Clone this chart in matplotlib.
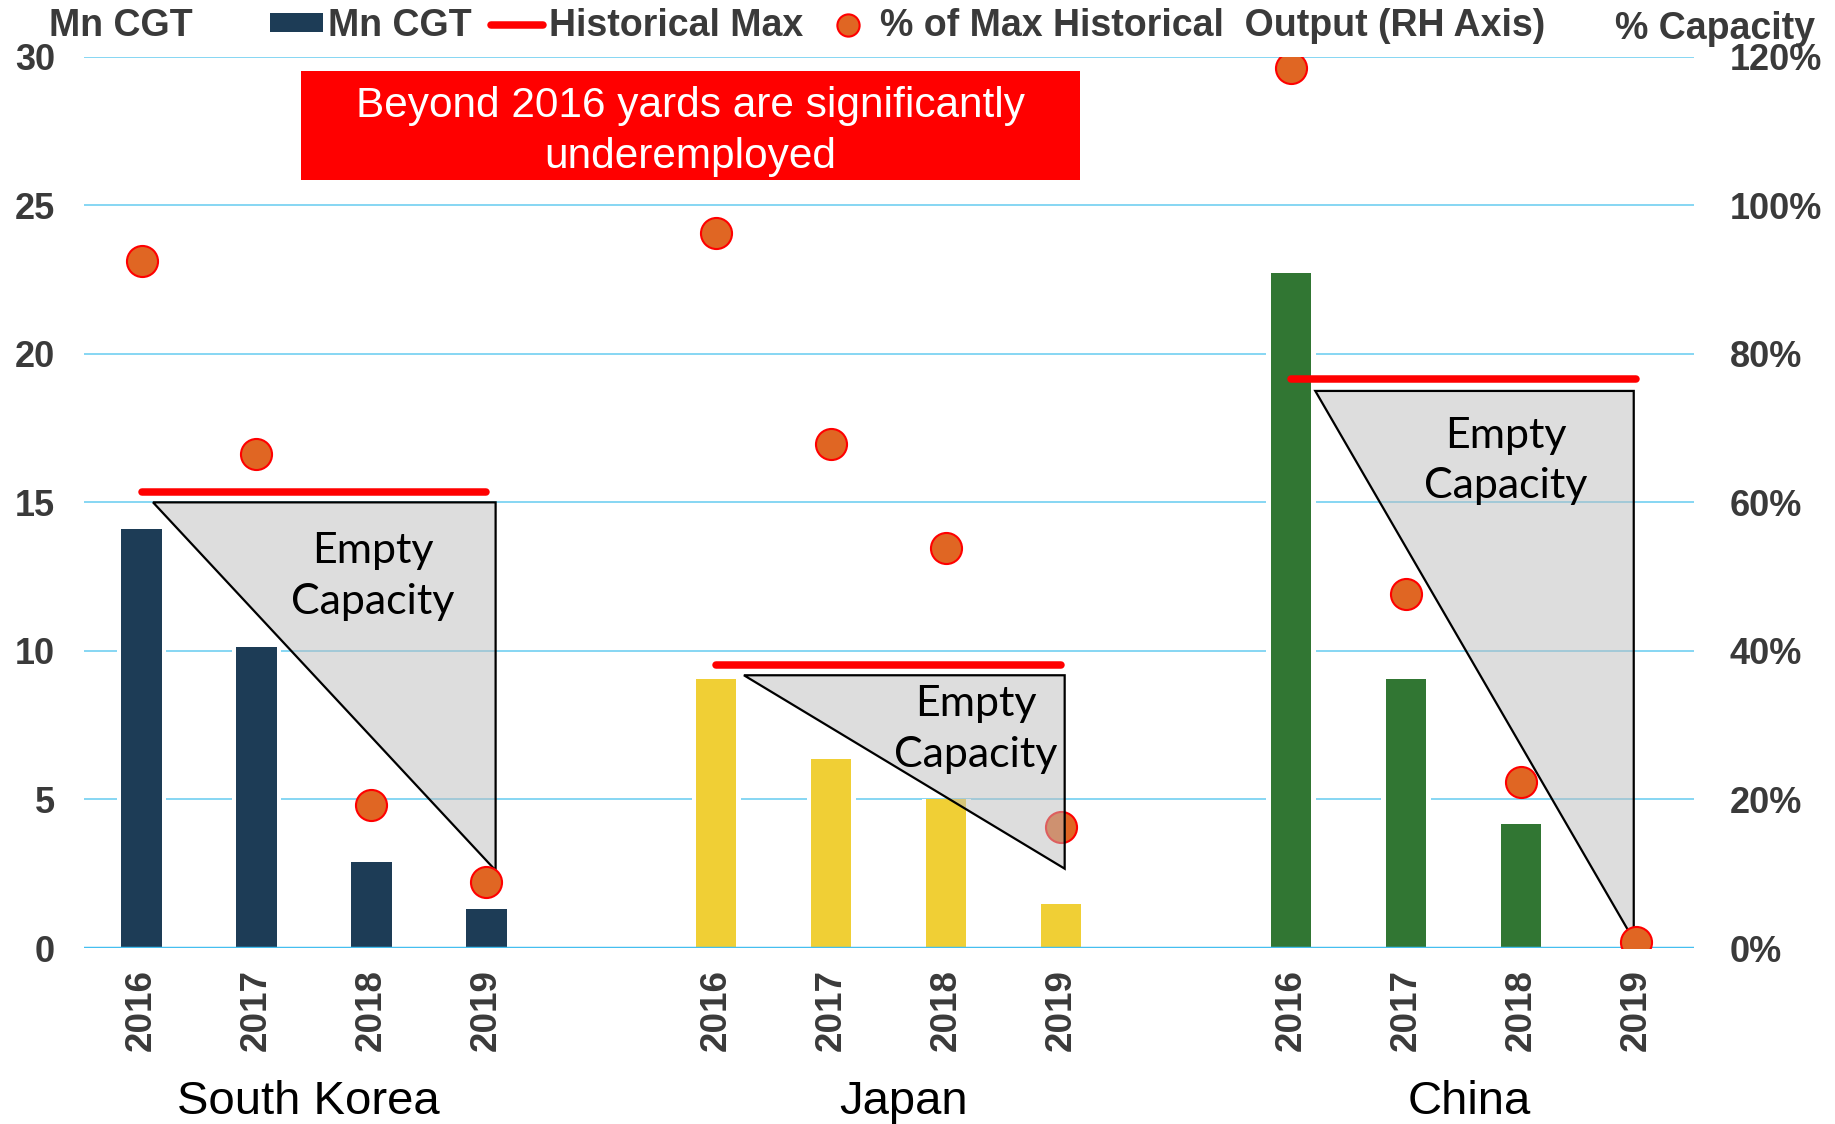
import numpy as np
import matplotlib
matplotlib.use("Agg")
import matplotlib.pyplot as plt
from matplotlib.patches import Polygon, Rectangle, Patch
from matplotlib.lines import Line2D
from matplotlib.transforms import blended_transform_factory

plt.rcParams['font.family'] = ['Liberation Sans', 'DejaVu Sans']

# data
countries = ['South Korea', 'Japan', 'China']
years = ['2016', '2017', '2018', '2019']
cgt_korea = [14.1, 10.13, 2.89, 1.30]
cgt_japan = [9.07, 6.36, 5.03, 1.47]
cgt_china = [22.72, 9.04, 4.16, 0.0]
pct_korea = [92.5, 66.5, 19.3, 8.9]
pct_japan = [96.3, 67.8, 53.9, 16.3]
pct_china = [118.5, 47.7, 22.3, 0.8]
hist_max = [15.34, 9.52, 19.15]
# empty capacity triangles: top value, bottom value
tri_top = [15.0, 9.18, 18.75]
tri_bottom = [2.61, 2.67, 0.27]
tri_left = [0.10, 0.24, 0.21]
tri_right = [3.08, 3.03, 2.98]

bar_colors = ['#1D3C56', '#F0CF35', '#317633']
cgt_all = [cgt_korea, cgt_japan, cgt_china]
pct_all = [pct_korea, pct_japan, pct_china]
txt_col = '#3A3A3A'

fig = plt.figure(figsize=(18.35, 11.24), dpi=100)
ax = fig.add_axes([0.0458, 0.15658, 0.8771, 0.79298])
ax2 = ax.twinx()

x_all = []
for g in range(3):
    x = np.arange(4) + g * 5
    x_all.extend(x)
    # white halo behind bars breaks the gridlines like the original
    ax.bar(x, cgt_all[g], width=0.43, color='white', edgecolor='none', zorder=1.5)
    ax.bar(x, cgt_all[g], width=0.35, color=bar_colors[g], edgecolor='none', zorder=2)
    ax.plot([x[0], x[-1]], [hist_max[g], hist_max[g]], color='#FF0000', lw=5.4,
            solid_capstyle='round', zorder=3.5)
    tri = Polygon([[x[0] + tri_left[g], tri_top[g]], [x[0] + tri_right[g], tri_top[g]],
                   [x[0] + tri_right[g], tri_bottom[g]]], closed=True,
                  facecolor='#BDBDBD', edgecolor='none', alpha=0.5)
    edge = Polygon(tri.get_xy(), closed=True, facecolor='none', edgecolor='black', lw=1.6)
    if g == 1:
        # japan triangle sits over its dots
        for p in (tri, edge):
            p.set_transform(ax.transData)
            p.set_zorder(6)
            ax2.add_patch(p)
    else:
        for p in (tri, edge):
            p.set_zorder(3)
            ax.add_patch(p)
    tx = x[0] + [2.01, 2.26, 1.87][g]
    ty = [12.5, 7.35, 16.4][g]
    ax2.text(tx, ty, 'Empty\nCapacity', transform=ax.transData, ha='center', va='center',
             fontsize=31, family=['Lato', 'DejaVu Sans'], color='black',
             linespacing=1.4, zorder=7)
    ax2.scatter(x, pct_all[g], s=500, color='#E06623', edgecolor='#FF0000',
                linewidth=1.5, zorder=5)

ax.set_xlim(-0.5, 13.5)
ax.set_ylim(0, 30)
ax2.set_ylim(0, 120)
ax.set_yticks(np.arange(0, 31, 5))
ax2.set_yticks(np.arange(0, 121, 20))
ax2.set_yticklabels([f'{v}%' for v in range(0, 121, 20)])
ax.yaxis.grid(True, color='#7DD3F2', lw=1.3, zorder=0.5)
ax.set_axisbelow(True)
ax.axhline(0, color='#45BFF0', lw=2.5, zorder=4)

for a in (ax, ax2):
    for s in a.spines.values():
        s.set_visible(False)
ax.tick_params(axis='y', length=0, pad=21, labelsize=26, labelcolor=txt_col)
ax2.tick_params(axis='y', length=0, pad=26, labelsize=26, labelcolor=txt_col)
for lab in ax.get_yticklabels() + ax2.get_yticklabels():
    lab.set_fontweight('bold')

ax.set_xticks(x_all, years * 3, rotation=90, fontsize=26.5, fontweight='bold', color=txt_col)
ax.tick_params(axis='x', length=0, pad=15)

trans = blended_transform_factory(ax.transData, ax.transAxes)
for c, cx in zip(countries, [1.45, 6.63, 11.55]):
    ax.text(cx, -0.173, c, transform=trans, ha='center', va='center', fontsize=34,
            color='black')

# headline box
ax2.add_patch(Rectangle((0.1348, 0.8617), 0.484, 0.1223, transform=ax.transAxes,
                        facecolor='#FF0000', edgecolor='none', zorder=8))
ax2.text(0.3768, 0.916, 'Beyond 2016 yards are significantly\nunderemployed',
         transform=ax.transAxes, ha='center', va='center', fontsize=30.5,
         color='white', linespacing=1.34, zorder=9)

fig.text(49 / 1835, 1 - 26 / 1124, 'Mn CGT', ha='left', va='center', fontsize=27,
         fontweight='bold', color=txt_col)
fig.text(1615 / 1835, 1 - 29 / 1124, '% Capacity', ha='left', va='center', fontsize=27,
         fontweight='bold', color=txt_col)

handles = [Patch(facecolor=bar_colors[0], edgecolor='none'),
           Line2D([], [], color='#FF0000', lw=5.4, solid_capstyle='round'),
           Line2D([], [], marker='o', ls='', ms=16, mfc='#E06623', mec='#FF0000', mew=1.5)]
labels = ['Mn CGT', 'Historical Max', '% of Max Historical  Output (RH Axis)']
fig.legend(handles, labels, loc='center left', bbox_to_anchor=(270 / 1835, 1 - 26 / 1124),
           ncol=3, frameon=False, handlelength=1.4, handleheight=0.4,
           handletextpad=0.15, columnspacing=0.5, borderpad=0, borderaxespad=0,
           prop={'size': 27, 'weight': 'bold'}, labelcolor=txt_col)

fig.savefig('out.png', dpi=100)
